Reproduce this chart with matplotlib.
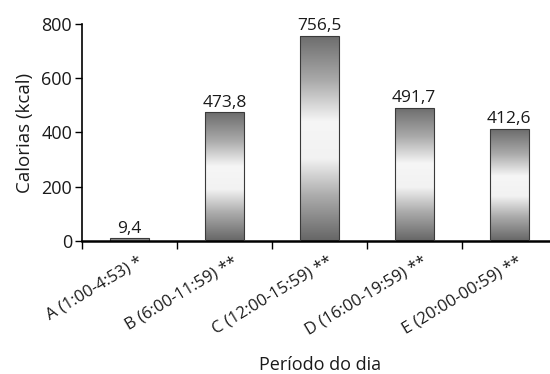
import numpy as np
import matplotlib.pyplot as plt
from matplotlib.colors import LinearSegmentedColormap
from matplotlib.patches import Rectangle

plt.rcParams['font.family'] = ['Open Sans', 'DejaVu Sans']

categorias = ["A (1:00-4:53) *", "B (6:00-11:59) **", "C (12:00-15:59) **",
              "D (16:00-19:59) **", "E (20:00-00:59) **"]
calorias = [9.4, 473.8, 756.5, 491.7, 412.6]
rotulos = ["9,4", "473,8", "756,5", "491,7", "412,6"]

fig = plt.figure(figsize=(5.5, 3.74), dpi=100)
ax = fig.add_axes([0.149, 0.3556, 0.851, 0.5804])

# gradiente cinza -> branco -> cinza
cmap = LinearSegmentedColormap.from_list("barra", [
    (0.0, "#666666"), (0.22, "#acacac"), (0.40, "#f2f2f2"),
    (0.58, "#f6f6f6"), (0.78, "#aaaaaa"), (1.0, "#6c6c6c")])
grad = np.linspace(0, 1, 256).reshape(-1, 1)

x = np.arange(len(categorias)) + 0.5
largura = 0.41
for xi, v, r in zip(x, calorias, rotulos):
    rect = Rectangle((xi - largura / 2, 0), largura, v, facecolor='#8c8c8c',
                     edgecolor='#3a3a3a', linewidth=0.8, zorder=2)
    ax.add_patch(rect)
    if v > 50:
        # barras pequenas ficam só cinza, como no original
        rect.set_facecolor('none')
        rect.set_zorder(3)
        im = ax.imshow(grad, cmap=cmap, aspect='auto',
                       extent=[xi - largura / 2, xi + largura / 2, v, 0],
                       zorder=2, interpolation='antialiased')
        im.set_clip_path(rect)
    ax.text(xi, v + 6, r, ha='center', va='bottom', fontsize=12.5, color='#1a1a1a')

ax.set_xlim(0, 4.93)
ax.set_ylim(0, 800)
ax.set_yticks([0, 200, 400, 600, 800])
ax.tick_params(axis='y', labelsize=13, length=5, width=1, direction='out', pad=2,
               labelcolor='#1a1a1a')
ax.set_xticks(np.arange(len(categorias)))
ax.set_xticklabels([])
ax.tick_params(axis='x', length=6, width=1, direction='out')
for xi, c in zip(x, categorias):
    ax.text(xi + 0.08, -45, c, rotation=31, ha='right', va='top', fontsize=12,
            rotation_mode='anchor', color='#1a1a1a')

ax.spines['top'].set_visible(False)
ax.spines['right'].set_visible(False)
ax.spines['bottom'].set_linewidth(1.8)
ax.spines['left'].set_linewidth(1.2)
ax.set_ylabel("Calorias (kcal)", fontsize=13.5, labelpad=5, color='#1a1a1a')
fig.text(0.582, 0.012, "Período do dia", ha='center', va='baseline',
         fontsize=13, color='#1a1a1a')

fig.savefig("out.png", dpi=100)
